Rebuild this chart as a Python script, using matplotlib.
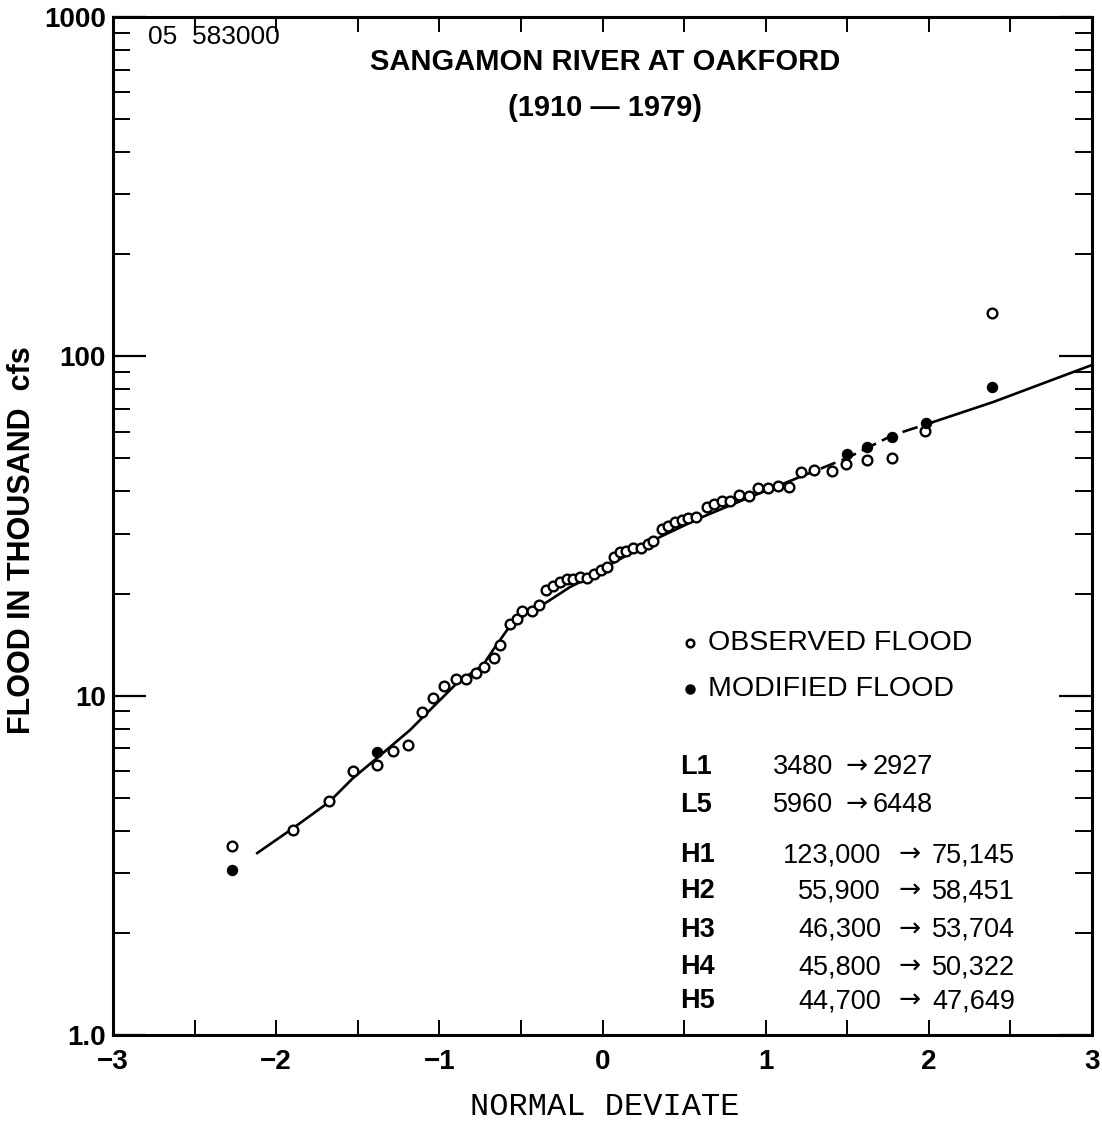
import matplotlib
matplotlib.use("Agg")
import matplotlib.pyplot as plt
from matplotlib.ticker import FixedLocator, NullFormatter
from matplotlib.lines import Line2D
from matplotlib import font_manager

plt.rcParams['font.family'] = ['Liberation Sans', 'DejaVu Sans']

# ---- data ----
obs_x = [-2.270, -1.896, -1.676, -1.529, -1.382, -1.284, -1.192, -1.106, -1.039, -0.971,
         -0.898, -0.836, -0.775, -0.726, -0.665, -0.628, -0.567, -0.524, -0.493, -0.432,
         -0.389, -0.346, -0.303, -0.260, -0.218, -0.181, -0.138, -0.095, -0.052, -0.009,
         0.028, 0.070, 0.107, 0.144, 0.187, 0.236, 0.279, 0.309, 0.365, 0.401,
         0.444, 0.487, 0.524, 0.573, 0.640, 0.683, 0.732, 0.781, 0.836, 0.898,
         0.953, 1.014, 1.075, 1.143, 1.216, 1.296, 1.406, 1.492, 1.621, 1.774,
         1.976, 2.387]
obs_y = [3.603, 4.017, 4.891, 5.995, 6.245, 6.865, 7.151, 8.946, 9.838, 10.67,
         11.19, 11.19, 11.66, 12.14, 12.91, 14.10, 16.26, 16.82, 17.76, 17.76,
         18.49, 20.48, 21.04, 21.62, 22.06, 22.06, 22.36, 22.21, 22.82, 23.45,
         23.93, 25.62, 26.50, 26.68, 27.23, 27.23, 27.98, 28.55, 30.97, 31.62,
         32.49, 32.94, 33.38, 33.61, 35.97, 36.70, 37.46, 37.46, 39.01, 38.75,
         40.91, 40.91, 41.47, 41.19, 45.60, 46.23, 45.92, 48.15, 49.47, 50.15,
         60.23, 134.2]

mod_x = [-2.270, -1.382, 1.498, 1.621, 1.774, 1.982, 2.387]
mod_y = [3.062, 6.82, 51.5, 54.0, 57.8, 63.6, 81.2]

fit_x = [-2.116, -1.896, -1.676, -1.529, -1.382, -1.180, -1.039, -0.892, -0.732, -0.671,
         -0.585, -0.463, -0.340, -0.199, -0.077, 0.064, 0.352, 0.597, 0.904, 1.210,
         1.498, 1.780, 2.025, 2.393, 3.0]
fit_y = [3.437, 4.07, 4.858, 5.716, 6.548, 7.916, 9.257, 10.89, 12.31, 13.63,
         15.61, 17.52, 18.88, 20.90, 22.36, 24.60, 29.34, 33.38, 38.48, 44.1,
         50.15, 58.6, 64.0, 73.3, 94.3]

x_ticks = [-3, -2, -1, 0, 1, 2, 3]
x_ticklabels = ['\u22123', '\u22122', '\u22121', '0', '1', '2', '3']
y_ticks = [1, 10, 100, 1000]
y_ticklabels = ['1.0', '10', '100', '1000']

table_labels = ['L1', 'L5', 'H1', 'H2', 'H3', 'H4', 'H5']
table_from = ['3480', '5960', '123,000', '55,900', '46,300', '45,800', '44,700']
table_to = ['2927', '6448', '75,145', '58,451', '53,704', '50,322', '47,649']

# narrow font for tick labels if available
names = {f.name for f in font_manager.fontManager.ttflist}
tick_family = ['Liberation Sans Narrow'] if 'Liberation Sans Narrow' in names else ['Liberation Sans']

# ---- figure ----
W, H = 1102, 1121
fig = plt.figure(figsize=(W / 100, H / 100), dpi=100)
ax = fig.add_axes([113 / W, 1 - 1035 / H, (1092 - 113) / W, (1035 - 17) / H])

ax.set_xlim(-3, 3)
ax.set_ylim(1, 1000)
ax.set_yscale('log')

# fitted line: solid, dashed between 1.2 and 2.0, solid afterwards
i1 = fit_x.index(1.210)
i2 = fit_x.index(2.025)
ax.plot(fit_x[:i1 + 1], fit_y[:i1 + 1], color='black', lw=1.9)
ax.plot(fit_x[i1:i2 + 1], fit_y[i1:i2 + 1], color='black', lw=1.9, dashes=(6, 2.5))
ax.plot(fit_x[i2:], fit_y[i2:], color='black', lw=1.9)

ax.plot(obs_x, obs_y, linestyle='none', marker='o', ms=7, mfc='white',
        mec='black', mew=1.7, zorder=3)
ax.plot(mod_x, mod_y, linestyle='none', marker='o', ms=7.2, mfc='black',
        mec='black', mew=1.0, zorder=4)

for s in ax.spines.values():
    s.set_linewidth(2.2)

ax.xaxis.set_major_locator(FixedLocator(x_ticks))
ax.xaxis.set_minor_locator(FixedLocator([-2.5, -1.5, -0.5, 0.5, 1.5, 2.5]))
ax.set_xticklabels(x_ticklabels)
ax.yaxis.set_major_locator(FixedLocator(y_ticks))
minors = [m * 10 ** d for d in range(0, 3) for m in range(2, 10)]
ax.yaxis.set_minor_locator(FixedLocator(minors))
ax.yaxis.set_minor_formatter(NullFormatter())
ax.set_yticklabels(y_ticklabels)

ax.tick_params(axis='x', which='both', direction='in', top=True, bottom=True,
               length=11, width=1.4, labelsize=20, pad=10)
ax.tick_params(axis='y', which='major', direction='in', left=True, right=True,
               length=24, width=1.6, labelsize=20, pad=5)
ax.tick_params(axis='y', which='minor', direction='in', left=True, right=True,
               length=12, width=1.4)
for lab in ax.get_xticklabels() + ax.get_yticklabels():
    lab.set_fontweight('bold')
    lab.set_family(tick_family)


def ft(px, py, s, **kw):
    kw.setdefault('va', 'center')
    fig.text(px / W, 1 - py / H, s, **kw)


ft(605, 1107, 'NORMAL DEVIATE', family=['Liberation Mono', 'DejaVu Sans Mono'],
   fontsize=23, ha='center')
ft(22, 540, 'FLOOD IN THOUSAND  cfs', fontsize=22, fontweight='bold',
   rotation=90, ha='center')

ft(148, 37, '05  583000', fontsize=19)
ft(605, 62, 'SANGAMON RIVER AT OAKFORD', fontsize=21, fontweight='bold', ha='center')
ft(605, 108, '(1910 \u2014 1979)', fontsize=21, fontweight='bold', ha='center')

# legend
fig.add_artist(Line2D([690 / W], [1 - 643 / H], transform=fig.transFigure, marker='o',
                      ms=5.5, mfc='white', mec='black', mew=1.8, linestyle='none'))
fig.add_artist(Line2D([690 / W], [1 - 689 / H], transform=fig.transFigure, marker='o',
                      ms=6.5, mfc='black', mec='black', linestyle='none'))
ft(708, 643, 'OBSERVED FLOOD', fontsize=20.5)
ft(708, 689, 'MODIFIED FLOOD', fontsize=20.5)

# table of modified values
row_y = [767, 805, 855, 891, 930, 967, 1001]
arrow_family = ['DejaVu Sans']
for i, (lab, a, b) in enumerate(zip(table_labels, table_from, table_to)):
    y = row_y[i]
    ft(680, y, lab, fontsize=19.5, fontweight='bold')
    if lab.startswith('L'):
        ft(773, y, a, fontsize=19.5)
        ft(857, y, '\u2192', fontsize=19, family=arrow_family, ha='center')
        ft(873, y, b, fontsize=19.5)
    else:
        ft(881, y, a, fontsize=19.5, ha='right')
        ft(910, y, '\u2192', fontsize=19, family=arrow_family, ha='center')
        ft(932, y, b, fontsize=19.5)

fig.savefig('out.png', dpi=100)
